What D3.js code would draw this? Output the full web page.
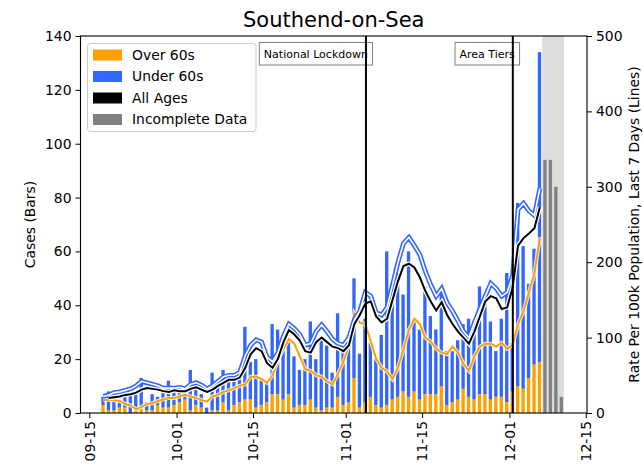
<!DOCTYPE html>
<html>
<head>
<meta charset="utf-8">
<script src="https://cdn.jsdelivr.net/npm/d3@7"></script>
<style>
  body { margin: 0; background: #fff; }
  text { font-family: "DejaVu Sans", sans-serif; }
</style>
</head>
<body>
<svg id="chart" width="643" height="469"></svg>
<script>
// Daily cases, Southend-on-Sea, from 17 Sep 2020
const firstDay = "2020-09-17";
const over60 = [3,1,1,2,2,0,1,2,1,1, 3,2,2,3,4,5,1,3,2,0, 1,1,4,1,3,4,5,5,2,3,
                4,7,7,5,7,2,3,3,5,2, 1,2,2,6,3,4,13,2,4,6, 3,2,3,5,6,8,6,8,5,7,
                7,7,10,3,4,5,9,6,5,7, 7,5,6,6,4,8,10,9,13,18, 19];
const under60 = [3,7,4,3,5,7,6,11,3,6, 3,6,10,6,5,3,15,9,5,2, 14,11,12,13,9,9,27,14,18,10,
                 8,26,24,19,20,19,13,17,29,18, 27,23,13,31,21,25,37,20,31,20, 17,27,57,43,46,36,54,27,26,40,
                 29,24,35,20,19,22,24,29,25,40, 37,29,17,29,48,18,68,53,35,43, 115];
// Most recent days, still being reported
const incompleteStart = "2020-12-07";
const incomplete = [94, 94, 84, 6];

// Rate per 100k population over the last 7 days
const rateAll = [null,20,21,22,24,25,27,31,33,32, 31,29,28,30,29,29,32,34,31,28,
                 31,36,40,44,44,47,60,78,86,82, 66,60,72,94,110,104,96,82,80,94,
                 100,94,88,86,82,90,118,130,145,148, 128,120,125,150,175,195,198,193,180,162,
                 148,136,147,130,118,108,100,92,108,128, 148,155,152,138,140,166,222,232,238,245,
                 273];
const rateUnder60 = [22,24,27,28,30,32,36,42,40,38, 36,33,33,33,34,32,38,40,37,32,
                     36,42,48,50,50,54,76,90,97,94, 74,68,80,102,118,112,104,90,92,108,
                     117,108,98,92,90,100,124,135,160,155, 133,130,140,170,200,225,233,222,210,188,
                     170,155,165,146,135,122,108,100,120,138, 155,172,165,155,160,182,270,278,268,262,
                     298];
const rateOver60 = [17,18,17,16,12,10,5,8,12,13, 16,18,20,20,22,24,22,20,17,15,
                    22,24,28,30,33,36,38,48,48,45, 40,50,70,85,98,92,75,58,56,50,
                    48,42,38,52,68,90,132,120,118,95, 72,60,55,45,60,85,110,125,118,100,
                    95,85,80,78,88,80,65,56,75,88, 92,92,88,93,85,90,118,135,160,185,
                    233];

const eventLabels = ["National Lockdown", "Area Tiers"];
const eventTimes = ["2020-11-04T17:00Z", "2020-12-01T15:00Z"];

const xTickDates = ["2020-09-15", "2020-10-01", "2020-10-15", "2020-11-01", "2020-11-15", "2020-12-01", "2020-12-15"];
const caseTicks = [0, 20, 40, 60, 80, 100, 120, 140];
const rateTicks = [0, 100, 200, 300, 400, 500];

const legendLabels = ["Over 60s", "Under 60s", "All Ages", "Incomplete Data"];

// ---- drawing ----
const C = { over: "#ff9f00", under: "#3366ff", all: "#000000", grey: "#808080", shade: "#dddddd" };
const W = 643, H = 469;
const plot = { left: 80.5, right: 587, top: 36, bottom: 413 };
const svg = d3.select("#chart");
svg.append("rect").attr("width", W).attr("height", H).attr("fill", "#fff");

const parseDay = d3.utcParse("%Y-%m-%d");
const start = parseDay(firstDay);
const days = under60.map((_, i) => d3.utcDay.offset(start, i));
const incDays = incomplete.map((_, i) => d3.utcDay.offset(parseDay(incompleteStart), i));

const x = d3.scaleUtc()
  .domain([new Date("2020-09-13T09:20Z"), new Date("2020-12-15T05:20Z")])
  .range([plot.left, plot.right]);
const yCases = d3.scaleLinear().domain([0, 140]).range([plot.bottom, plot.top]);
const yRate = d3.scaleLinear().domain([0, 500]).range([plot.bottom, plot.top]);

// bars sit on a 0.8 day slot starting a little after midnight
const slotStart = d => d3.utcHour.offset(d, 5);
const slotEnd = d => d3.utcHour.offset(d, 24);
const centre = d => d3.utcHour.offset(d, 14.5);
const barW = d => x(slotEnd(d)) - x(slotStart(d)) - 1;

// incomplete-data shading
svg.append("rect")
  .attr("x", x(slotStart(incDays[0])) - 1)
  .attr("y", plot.top)
  .attr("width", x(slotEnd(incDays[incDays.length - 1])) - x(slotStart(incDays[0])) + 1)
  .attr("height", plot.bottom - plot.top)
  .attr("fill", C.shade);

const bars = svg.append("g");
bars.selectAll(".o").data(days).join("rect")
  .attr("x", d => x(slotStart(d)))
  .attr("width", barW)
  .attr("y", (d, i) => yCases(over60[i]))
  .attr("height", (d, i) => yCases(0) - yCases(over60[i]))
  .attr("fill", C.over);
bars.selectAll(".u").data(days).join("rect")
  .attr("x", d => x(slotStart(d)))
  .attr("width", barW)
  .attr("y", (d, i) => yCases(over60[i] + under60[i]))
  .attr("height", (d, i) => yCases(over60[i]) - yCases(over60[i] + under60[i]))
  .attr("fill", C.under);
bars.selectAll(".g").data(incDays).join("rect")
  .attr("x", d => x(slotStart(d)))
  .attr("width", barW)
  .attr("y", (d, i) => yCases(incomplete[i]))
  .attr("height", (d, i) => yCases(0) - yCases(incomplete[i]))
  .attr("fill", C.grey);

// rate lines
function rateLine(values) {
  return d3.line()
    .defined((d, i) => values[i] != null)
    .x(d => x(centre(d)))
    .y((d, i) => yRate(values[i]))(days);
}
const lines = svg.append("g").attr("fill", "none").attr("stroke-linejoin", "miter");
// over 60s: orange with a white halo
lines.append("path").attr("d", rateLine(rateOver60)).attr("stroke", "#fff").attr("stroke-width", 4).attr("stroke-opacity", 0.8);
lines.append("path").attr("d", rateLine(rateOver60)).attr("stroke", C.over).attr("stroke-width", 2);
// under 60s: hollow blue
lines.append("path").attr("d", rateLine(rateUnder60)).attr("stroke", C.under).attr("stroke-width", 4.8);
lines.append("path").attr("d", rateLine(rateUnder60)).attr("stroke", "#fff").attr("stroke-width", 1.6);
// all ages: black with a white halo
lines.append("path").attr("d", rateLine(rateAll)).attr("stroke", "#fff").attr("stroke-width", 4.5);
lines.append("path").attr("d", rateLine(rateAll)).attr("stroke", C.all).attr("stroke-width", 2);

// event markers
const ev = svg.append("g");
eventLabels.forEach((label, i) => {
  const ex = x(new Date(eventTimes[i]));
  const g = ev.append("g");
  const box = g.append("rect").attr("fill", "#fff").attr("stroke", "#808080").attr("stroke-width", 1);
  const t = g.append("text")
    .attr("x", ex + 2).attr("y", 57.5)
    .attr("text-anchor", "end")
    .attr("font-size", 11)
    .attr("fill", "#000")
    .text(label);
  const b = t.node().getBBox();
  box.attr("x", b.x - 4.5).attr("y", 42.5).attr("width", b.width + 9).attr("height", 22.5);
  g.append("line")
    .attr("x1", ex).attr("x2", ex)
    .attr("y1", plot.top).attr("y2", plot.bottom)
    .attr("stroke", "#000").attr("stroke-width", 2);
});

// axes
const fs = 13.9;
const ax = svg.append("g").attr("font-size", fs);
const leftAxis = ax.append("g").attr("transform", `translate(${plot.left},0)`)
  .call(d3.axisLeft(yCases).tickValues(caseTicks).tickSize(5).tickPadding(4).tickSizeOuter(0));
const rightAxis = ax.append("g").attr("transform", `translate(${plot.right},0)`)
  .call(d3.axisRight(yRate).tickValues(rateTicks).tickSize(5).tickPadding(4).tickSizeOuter(0));
const bottomAxis = ax.append("g").attr("transform", `translate(0,${plot.bottom})`)
  .call(d3.axisBottom(x).tickValues(xTickDates.map(parseDay)).tickFormat(d3.utcFormat("%m-%d")).tickSize(5).tickSizeOuter(0));
bottomAxis.selectAll("text")
  .attr("transform", "rotate(-90)")
  .attr("text-anchor", "end")
  .attr("x", -8).attr("y", 0).attr("dy", "0.35em");
[leftAxis, rightAxis, bottomAxis].forEach(a => {
  a.select(".domain").remove();
  a.selectAll("text").attr("font-size", fs).attr("font-family", "DejaVu Sans").attr("fill", "#000");
  a.selectAll("line").attr("stroke", "#000").attr("stroke-width", 1);
});

// frame
svg.append("rect")
  .attr("x", plot.left).attr("y", plot.top)
  .attr("width", plot.right - plot.left).attr("height", plot.bottom - plot.top)
  .attr("fill", "none").attr("stroke", "#000").attr("stroke-width", 1.1);

// axis titles
svg.append("text")
  .attr("transform", `translate(35,${(plot.top + plot.bottom) / 2}) rotate(-90)`)
  .attr("text-anchor", "middle").attr("font-size", fs).text("Cases (Bars)");
svg.append("text")
  .attr("transform", `translate(639,${(plot.top + plot.bottom) / 2}) rotate(-90)`)
  .attr("text-anchor", "middle").attr("font-size", fs).text("Rate Per 100k Population, Last 7 Days (Lines)");
svg.append("text")
  .attr("x", (plot.left + plot.right) / 2).attr("y", 27)
  .attr("text-anchor", "middle").attr("font-size", 21).text("Southend-on-Sea");

// legend
const legendColors = [C.over, C.under, C.all, C.grey];
const lg = svg.append("g");
lg.append("rect")
  .attr("x", 87.5).attr("y", 43.5).attr("width", 168.5).attr("height", 88)
  .attr("rx", 3).attr("fill", "#fff").attr("fill-opacity", 0.85)
  .attr("stroke", "#cccccc").attr("stroke-width", 1);
legendLabels.forEach((label, i) => {
  const cy = 55 + i * 21.5;
  lg.append("rect").attr("x", 93).attr("y", cy - 5.5).attr("width", 29).attr("height", 11).attr("fill", legendColors[i]);
  lg.append("text").attr("x", 132).attr("y", cy).attr("dy", "0.35em").attr("font-size", fs).text(label);
});
</script>
</body>
</html>
